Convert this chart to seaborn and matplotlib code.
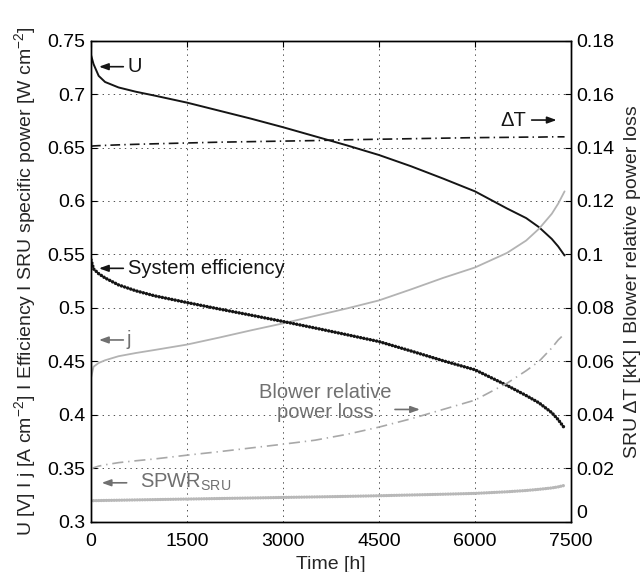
import matplotlib
matplotlib.use("Agg")
import matplotlib.pyplot as plt
import seaborn as sns

# ---- data ----
time_h = [0, 40, 120, 220, 430, 700, 1000, 1500, 2000, 2500, 3000, 3500,
          4000, 4500, 5000, 5500, 6000, 6500, 6800, 7000, 7200, 7300, 7400]
voltage_U = [0.7365, 0.728, 0.717, 0.7113, 0.7062, 0.7022, 0.6985, 0.692, 0.6845,
             0.677, 0.669, 0.6605, 0.652, 0.643, 0.6325, 0.621, 0.609, 0.593,
             0.584, 0.5755, 0.5645, 0.5575, 0.549]
current_j = [0.4345, 0.445, 0.4485, 0.451, 0.4548, 0.4578, 0.4607, 0.4657, 0.4722,
             0.479, 0.4855, 0.4925, 0.4995, 0.507, 0.5173, 0.528, 0.5378, 0.5514,
             0.563, 0.574, 0.588, 0.5975, 0.609]
sys_efficiency = [0.545, 0.5365, 0.532, 0.528, 0.5215, 0.516, 0.5112, 0.505,
                  0.499, 0.4932, 0.4873, 0.4812, 0.4749, 0.4685, 0.4597, 0.4506,
                  0.4421, 0.4275, 0.418, 0.4112, 0.402, 0.3955, 0.3875]
spwr_sru = [0.3196, 0.3197, 0.3198, 0.3199, 0.3201, 0.3204, 0.3207, 0.3212,
            0.3217, 0.3222, 0.3227, 0.3232, 0.3237, 0.3243, 0.3250, 0.3257,
            0.3265, 0.3280, 0.3292, 0.3303, 0.3316, 0.3326, 0.3340]
delta_T = [0.1405, 0.1406, 0.1407, 0.1408, 0.1410, 0.1412, 0.1414, 0.1417,
           0.1420, 0.1422, 0.1424, 0.1426, 0.1429, 0.1431, 0.1433, 0.1435,
           0.1437, 0.1438, 0.1439, 0.1439, 0.1440, 0.1440, 0.1440]
blower_loss = [0.0196, 0.0202, 0.0208, 0.0213, 0.0221, 0.0228, 0.0235, 0.0249,
               0.0262, 0.0276, 0.0290, 0.0305, 0.0327, 0.0354, 0.0385, 0.0420,
               0.0455, 0.0518, 0.0565, 0.0600, 0.0650, 0.0680, 0.0703]

x_ticks = [0, 1500, 3000, 4500, 6000, 7500]
left_ticks = [0.3, 0.35, 0.4, 0.45, 0.5, 0.55, 0.6, 0.65, 0.7, 0.75]
left_labels = ["0.3", "0.35", "0.4", "0.45", "0.5", "0.55", "0.6", "0.65", "0.7", "0.75"]
right_ticks = [0, 0.02, 0.04, 0.06, 0.08, 0.1, 0.12, 0.14, 0.16, 0.18]
right_labels = ["0", "0.02", "0.04", "0.06", "0.08", "0.1", "0.12", "0.14", "0.16", "0.18"]

# ---- style ----
sns.set_style("white")
plt.rcParams["font.family"] = ["Liberation Sans", "DejaVu Sans"]
plt.rcParams["mathtext.fontset"] = "custom"
plt.rcParams["mathtext.rm"] = "Liberation Sans"
plt.rcParams["mathtext.it"] = "Liberation Sans:italic"
plt.rcParams["mathtext.bf"] = "Liberation Sans:bold"
plt.rcParams["lines.scale_dashes"] = False
plt.rcParams["axes.unicode_minus"] = True

FS = 14
BLACK = "#151515"
GRAY_LINE = "#b3b3b3"
GRAY_TXT = "#707070"

fig = plt.figure(figsize=(6.44, 5.72), dpi=100)
ax = fig.add_axes([0.1413, 0.0879, 0.7453, 0.8411])
ax2 = ax.twinx()

# left-axis series
sns.lineplot(x=time_h, y=voltage_U, ax=ax, color=BLACK, lw=1.4)
sns.lineplot(x=time_h, y=current_j, ax=ax, color=GRAY_LINE, lw=1.3)
sns.lineplot(x=time_h, y=sys_efficiency, ax=ax, color=BLACK, lw=2.5,
             linestyle=(0, (0.05, 2.3)), dash_capstyle="round")
sns.lineplot(x=time_h, y=spwr_sru, ax=ax, color="#b8b8b8", lw=2.4,
             linestyle=(0, (0.05, 1.8)), dash_capstyle="round")

# right-axis series
sns.lineplot(x=time_h, y=delta_T, ax=ax2, color=BLACK, lw=1.2,
             linestyle=(0, (7, 3, 1, 3)))
sns.lineplot(x=time_h, y=blower_loss, ax=ax2, color="#a8a8a8", lw=1.2,
             linestyle=(0, (8, 3.5, 1, 3.5)))

# axes limits / ticks
ax.set_xlim(0, 7500)
ax.set_ylim(0.3, 0.75)
ax2.set_ylim(0, 0.18)
ax.set_xticks(x_ticks)
ax.set_xticklabels([str(v) for v in x_ticks], fontsize=FS)
ax.set_yticks(left_ticks)
ax.set_yticklabels(left_labels, fontsize=FS)
ax2.set_yticks(right_ticks)
ax2.set_yticklabels(right_labels, fontsize=FS)

for a in (ax, ax2):
    a.tick_params(direction="in", length=4, width=0.8, pad=4, colors="black",
                  labelsize=FS)
    for s in a.spines.values():
        s.set_visible(True)
        s.set_color("black")
        s.set_linewidth(1.0)
ax.tick_params(top=True, which="both")
ax.tick_params(axis="x", pad=8)
# lift the bottom "0" of the right axis a little, as in the reference
for lbl in ax2.get_yticklabels():
    if lbl.get_text() == "0":
        lbl.set_va("bottom")

ax.grid(True, color="#333333", linestyle=(0, (1, 3)), linewidth=0.6)
ax.set_axisbelow(True)

ax.set_xlabel("Time [h]", fontsize=FS)
ax.xaxis.set_label_coords(0.5, -0.072)
ax.set_ylabel("U [V] I j [A cm$^{-2}$] I Efficiency I SRU specific power [W cm$^{-2}$]",
              fontsize=FS)
ax.yaxis.set_label_coords(-0.110, 0.5)
ax2.set_ylabel("SRU \u0394T [kK] I Blower relative power loss", fontsize=FS)
ax2.yaxis.set_label_coords(1.110, 0.5)

# ---- annotations ----
arrow_k = dict(arrowstyle="-|>,head_length=0.55,head_width=0.2", color=BLACK,
               lw=1.2, shrinkA=0, shrinkB=0)
arrow_g = dict(arrowstyle="-|>,head_length=0.55,head_width=0.2", color=GRAY_TXT,
               lw=1.2, shrinkA=0, shrinkB=0)

ax.annotate("", xy=(125, 0.7256), xytext=(505, 0.7256), arrowprops=arrow_k)
ax.text(578, 0.7256, "U", fontsize=FS + 0.5, va="center", ha="left", color=BLACK)

ax.annotate("", xy=(125, 0.537), xytext=(505, 0.537), arrowprops=arrow_k)
ax.text(583, 0.537, "System efficiency", fontsize=FS + 0.5, va="center",
        ha="left", color=BLACK)

ax.annotate("", xy=(125, 0.470), xytext=(505, 0.470), arrowprops=arrow_g)
ax.text(557, 0.470, "j", fontsize=FS + 0.5, va="center", ha="left", color=GRAY_TXT)

ax.annotate("", xy=(167, 0.3364), xytext=(557, 0.3364), arrowprops=arrow_g)
ax.text(766, 0.3364, "SPWR$_{\\mathrm{SRU}}$", fontsize=FS + 0.5, va="center",
        ha="left", color=GRAY_TXT)

ax.text(3656, 0.4113, "Blower relative\npower loss", fontsize=FS + 0.5,
        va="center", ha="center", color=GRAY_TXT, linespacing=1.1)
ax.annotate("", xy=(5140, 0.405), xytext=(4750, 0.405), arrowprops=arrow_g)

ax.text(6390, 0.6757, "\u0394T", fontsize=FS + 0.5, va="center", ha="left",
        color=BLACK)
ax.annotate("", xy=(7276, 0.6757), xytext=(6886, 0.6757), arrowprops=arrow_k)

fig.savefig("out.png", dpi=100)
